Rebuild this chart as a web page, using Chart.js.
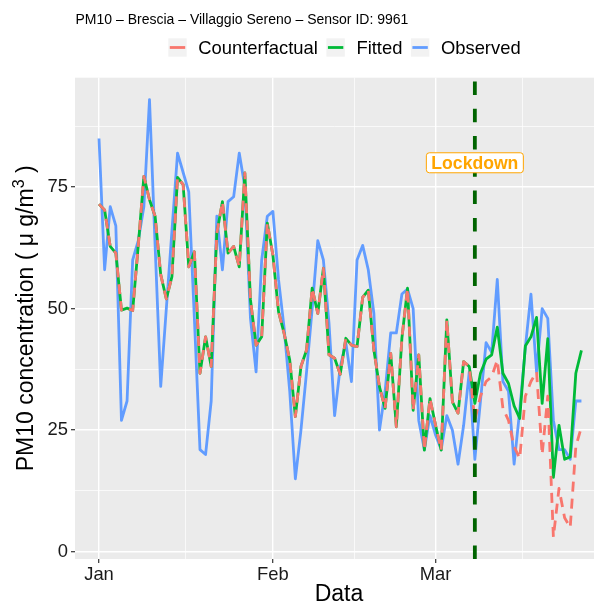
<!DOCTYPE html>
<html><head><meta charset="utf-8">
<script src="https://cdn.jsdelivr.net/npm/chart.js@4.4.1/dist/chart.umd.min.js"></script>
<style>html,body{margin:0;padding:0;background:#fff;overflow:hidden}canvas{display:block}</style>
</head><body>
<canvas id="c" width="594" height="604"></canvas>
<script>
// ---- data ----
const titleText = 'PM10 \u2013 Brescia \u2013 Villaggio Sereno \u2013 Sensor ID: 9961';
const seriesNames = ['Counterfactual', 'Fitted', 'Observed'];
const startDate = '2020-01-01'; // index i = days after this date
const observed = [85,58,71,67,27,31,60,64,71,93,
  63,34,50,66,82,78,74,48,21,20,
  31,69,58,72,73,82,75,48,37,60,
  69,70,56,46,33,15,25,37,50,64,
  60,47,28,38,43,35,60,63,58,49,
  25,33,45,45,53,54,50,27,21,28,
  24,21,28,25,18,26,37,19,31,43,
  41,56,35,33,18,29,42,53,37,50,
  48,27,21,21,19,31,31];
const fitted = [71.5,70.3,62.8,61.4,49.7,50.1,49.6,63,77.2,72.4,
  69,57,52,56.6,77,75.5,58.6,61.7,36.7,44.2,
  38.1,65.5,72,61.4,62.8,58.6,77.9,51.8,42.5,44.2,
  67.6,61,49.4,44.9,39.4,27.8,38.1,41.5,54.2,49,
  58.3,40.5,39.8,36.5,43.9,42.5,42.2,52.3,53.8,41.5,
  33.9,29.5,40.8,25.7,44,54.2,29.1,40.5,20.9,31.5,
  26,20.9,47.7,30.8,28.5,39.1,38.1,30.5,36.7,39.6,
  40.5,46.2,36.7,34.6,30,27.4,42.3,44.2,48.2,30.5,
  43.8,15.3,26,19,19.5,36.7,41.4];
const counterfactual = [71.5,70.3,62.8,61.4,49.7,50.1,49.6,63,77.2,72.4,
  69,57,52,56.6,77,75.5,58.6,61.7,36.7,44.2,
  38.1,65.5,72,61.4,62.8,58.6,77.9,51.8,42.5,44.2,
  67.6,61,49.4,44.9,39.4,27.8,38.1,41.5,54.2,49,
  58.3,40.5,39.8,36.5,43.9,42.5,42.2,52.3,53.8,41.5,
  33.9,29.5,40.8,25.7,44,54.2,29.1,40.5,20.9,31.5,
  26,20.9,47.7,30.8,28.5,39.1,38.1,27,32,35,
  36,39.4,29.5,27,21.6,19.2,32,35,37,20,
  32,3,13,7,5,21.6,25.7];
const monthStartDays = [0, 31, 60, 91];
const xTickLabels = ['Jan', 'Feb', 'Mar'];
const yTickValues = [0, 25, 50, 75];
const lockdownDay = 67;          // 2020-03-08
const lockdownLabel = 'Lockdown';
const lockdownLabelY = 80;

// ---- styling / drawing ----
const FONT = '"Liberation Sans", Arial, Helvetica, sans-serif';
const TXT = '#1A1A1A';
const colors = ['#F8766D', '#00BA38', '#619CFF'];
const xMajor = monthStartDays.slice(0, 3);
const xGridVals = [];
for (let i = 0; i < monthStartDays.length - 1; i++) {
  xGridVals.push(monthStartDays[i], (monthStartDays[i] + monthStartDays[i + 1]) / 2);
}
const yGridVals = [];
for (let i = 0; i < yTickValues.length; i++) {
  yGridVals.push(yTickValues[i], yTickValues[i] + 12.5);
}
const toXY = arr => arr.map((v, i) => ({x: i, y: v}));

const panelPlugin = {
  id: 'panel',
  beforeDraw(chart) {
    const {ctx, chartArea: a} = chart;
    ctx.save();
    ctx.fillStyle = '#EBEBEB';
    ctx.fillRect(a.left, a.top, a.right - a.left, a.bottom - a.top);
    ctx.restore();
  },
  afterDatasetsDraw(chart) {
    const {ctx, chartArea: a, scales: {x, y}} = chart;
    const lx = x.getPixelForValue(lockdownDay);
    ctx.save();
    ctx.beginPath(); ctx.rect(a.left, a.top, a.right - a.left, a.bottom - a.top); ctx.clip();
    ctx.strokeStyle = '#006400'; ctx.lineWidth = 3.8; ctx.setLineDash([13.5, 13.8]);
    ctx.beginPath(); ctx.moveTo(lx, a.bottom); ctx.lineTo(lx, a.top); ctx.stroke();
    ctx.restore();
    const ly = y.getPixelForValue(lockdownLabelY);
    ctx.save();
    ctx.font = 'bold 17.6px ' + FONT;
    const tw = ctx.measureText(lockdownLabel).width;
    const padX = 5, h = 20, r = 3;
    const bx = lx - tw / 2 - padX, by = ly - h / 2, bw = tw + 2 * padX;
    ctx.beginPath();
    ctx.roundRect(bx, by, bw, h, r);
    ctx.fillStyle = '#FFFFFF'; ctx.fill();
    ctx.strokeStyle = '#FFA500'; ctx.lineWidth = 1; ctx.stroke();
    ctx.fillStyle = '#FFA500'; ctx.textAlign = 'center'; ctx.textBaseline = 'middle';
    ctx.fillText(lockdownLabel, lx, ly + 1);
    ctx.restore();
  },
  afterDraw(chart) {
    const {ctx, chartArea: a} = chart;
    ctx.save();
    // title
    ctx.fillStyle = '#000';
    ctx.font = '14px ' + FONT;
    ctx.textAlign = 'left'; ctx.textBaseline = 'alphabetic';
    ctx.fillText(titleText, 75.5, 24);
    // legend
    let kx = 168.3;
    const ky = 38.3, ks = 18.4, lyc = ky + ks / 2;
    ctx.font = '18.4px ' + FONT;
    ctx.textBaseline = 'middle';
    chart.data.datasets.forEach((ds, i) => {
      ctx.fillStyle = '#F2F2F2';
      ctx.fillRect(kx, ky, ks, ks);
      ctx.strokeStyle = ds.borderColor; ctx.lineWidth = 2.8; ctx.setLineDash([]);
      ctx.beginPath(); ctx.moveTo(kx + 1.5, lyc); ctx.lineTo(kx + ks - 1.5, lyc); ctx.stroke();
      ctx.fillStyle = '#000';
      const tx = kx + ks + 11.6;
      ctx.fillText(ds.label, tx, lyc + 1);
      kx = tx + ctx.measureText(ds.label).width + 8.5;
    });
    // x title
    ctx.font = '23px ' + FONT;
    ctx.textAlign = 'center'; ctx.textBaseline = 'alphabetic';
    ctx.fillText('Data', 339, 601);
    // y title with superscript
    ctx.translate(33, (a.top + a.bottom) / 2);
    ctx.rotate(-Math.PI / 2);
    const main = 'PM10 concentration ( \u03bc g/m', sup = '3', tail = ' )';
    ctx.font = '23px ' + FONT;
    const wMain = ctx.measureText(main).width, wTail = ctx.measureText(tail).width;
    ctx.font = '16px ' + FONT;
    const wSup = ctx.measureText(sup).width;
    const start = -(wMain + wSup + wTail) / 2;
    ctx.textAlign = 'left';
    ctx.font = '23px ' + FONT;
    ctx.fillText(main, start, 0);
    ctx.font = '16px ' + FONT;
    ctx.fillText(sup, start + wMain, -9);
    ctx.font = '23px ' + FONT;
    ctx.fillText(tail, start + wMain + wSup, 0);
    ctx.restore();
  }
};

const lineDs = (i, arr, extra) => Object.assign({
  label: seriesNames[i], data: toXY(arr), borderColor: colors[i], backgroundColor: colors[i],
  borderWidth: 2.8, pointRadius: 0, tension: 0, fill: false, borderJoinStyle: 'round'
}, extra || {});

new Chart(document.getElementById('c'), {
  type: 'line',
  data: {datasets: [
    lineDs(0, counterfactual, {borderDash: [10, 7]}),
    lineDs(1, fitted),
    lineDs(2, observed)
  ]},
  options: {
    responsive: false, animation: false, devicePixelRatio: 1,
    layout: {padding: {top: 77.7, left: 0, right: 0, bottom: 0}},
    plugins: {legend: {display: false}, title: {display: false}, tooltip: {enabled: false}},
    scales: {
      x: {
        type: 'linear', min: -4.28, max: 88.24,
        afterFit(s) { s.height = 45; },
        afterBuildTicks(s) { s.ticks = xGridVals.map(v => ({value: v})); },
        ticks: {autoSkip: false, maxRotation: 0, padding: 1, color: TXT,
          font: {family: FONT, size: 18.4},
          callback: v => { const k = xMajor.indexOf(v); return k >= 0 ? xTickLabels[k] : ''; }},
        grid: {color: '#FFFFFF', lineWidth: c => xMajor.includes(c.tick && c.tick.value) ? 1.4 : 0.7,
          tickColor: c => xMajor.includes(c.tick && c.tick.value) ? '#333333' : 'rgba(0,0,0,0)',
          tickLength: 4, tickWidth: 1.2},
        border: {display: false}
      },
      y: {
        type: 'linear', min: -1.5, max: 97.5,
        afterFit(s) { s.width = 75; },
        afterBuildTicks(s) { s.ticks = yGridVals.map(v => ({value: v})); },
        ticks: {autoSkip: false, padding: 3, color: TXT,
          font: {family: FONT, size: 18.4},
          callback: v => yTickValues.includes(v) ? String(v) : ''},
        grid: {color: '#FFFFFF', lineWidth: c => yTickValues.includes(c.tick && c.tick.value) ? 1.4 : 0.7,
          tickColor: c => yTickValues.includes(c.tick && c.tick.value) ? '#333333' : 'rgba(0,0,0,0)',
          tickLength: 4, tickWidth: 1.2},
        border: {display: false}
      }
    }
  },
  plugins: [panelPlugin]
});
</script>
</body></html>
